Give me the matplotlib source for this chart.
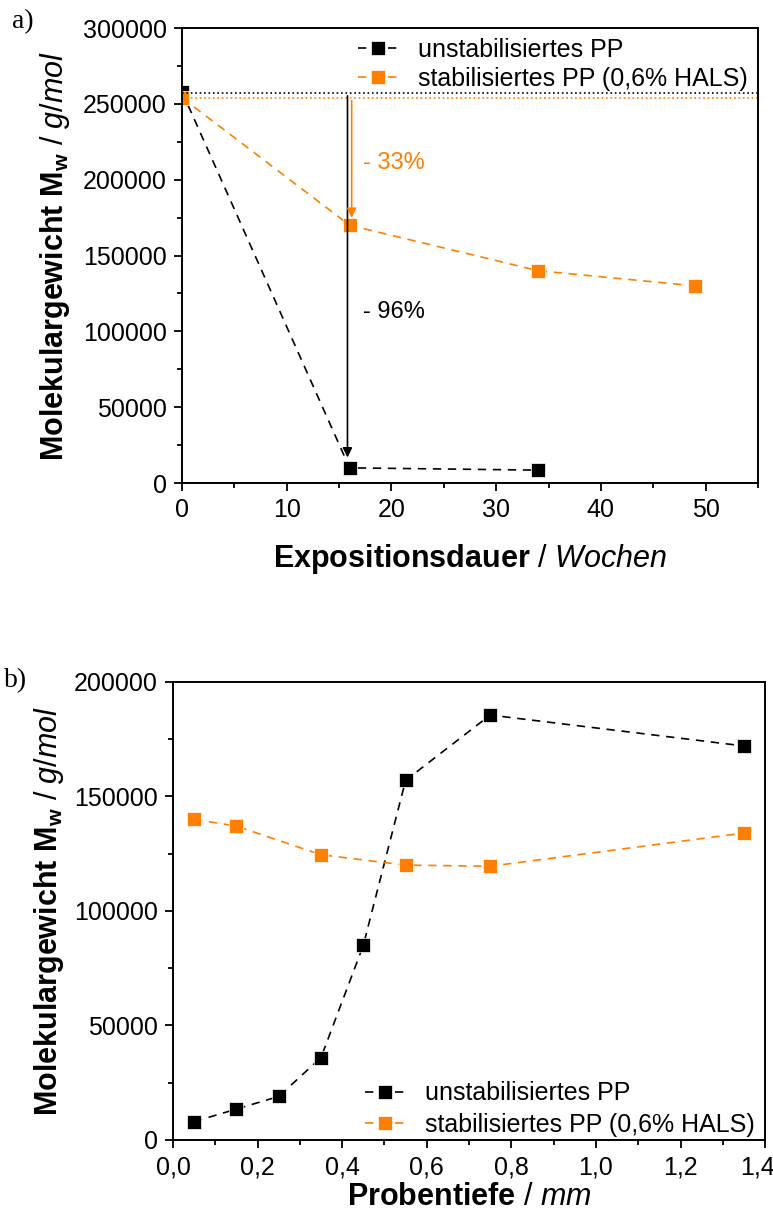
import numpy as np
import matplotlib
matplotlib.use("Agg")
import matplotlib.pyplot as plt
import matplotlib.transforms as mtransforms
from matplotlib.ticker import MultipleLocator, FuncFormatter

plt.rcParams['font.family'] = ['Liberation Sans', 'DejaVu Sans']
plt.rcParams['mathtext.fontset'] = 'custom'
plt.rcParams['mathtext.rm'] = 'Liberation Sans'
plt.rcParams['mathtext.bf'] = 'Liberation Sans:bold'
plt.rcParams['mathtext.it'] = 'Liberation Sans:italic'

# panel a data: Expositionsdauer (Wochen)
wochen_un = [0, 16, 34]
mw_un = [258000, 10000, 8500]
wochen_st = [0, 16, 34, 49]
mw_st = [254000, 170000, 140000, 130000]

# panel b data: Probentiefe (mm)
tiefe_un = [0.05, 0.15, 0.25, 0.35, 0.45, 0.55, 0.75, 1.35]
mwb_un = [8000, 13500, 19000, 36000, 85000, 157000, 185500, 172000]
tiefe_st = [0.05, 0.15, 0.35, 0.55, 0.75, 1.35]
mwb_st = [140000, 137000, 124500, 120000, 119500, 134000]

lab_un = "unstabilisiertes PP"
lab_st = "stabilisiertes PP (0,6% HALS)"
ORANGE = "#FF8000"
ylab = r"$\mathbf{Molekulargewicht\ M_w}$ / $\mathit{g/mol}$"

fig = plt.figure(figsize=(7.73, 12.25), dpi=100)

def style(ax):
    ax.tick_params(which='both', direction='out', top=False, right=False, width=1.3)
    ax.tick_params(which='major', length=6, labelsize=18, pad=5)
    ax.tick_params(which='minor', length=3.5)
    for s in ax.spines.values():
        s.set_linewidth(1.4)

# ---- a)
ax1 = fig.add_axes([0.2355, 0.6057, 0.745, 0.3714])
ax1.plot(wochen_un, mw_un, ls=(0, (5, 4)), color='black', lw=1.2, marker='s', ms=10,
         mfc='black', mec='white', mew=0.5, label=lab_un)
ax1.plot(wochen_st, mw_st, ls=(0, (5, 4)), color=ORANGE, lw=1.2, marker='s', ms=10,
         mfc=ORANGE, mec='white', mew=0.5, label=lab_st)
ax1.axhline(mw_un[0] - 900, color='black', ls=':', lw=1.2)
ax1.axhline(mw_st[0], color=ORANGE, ls=':', lw=1.2)
ax1.annotate("", xy=(15.8, 15000), xytext=(15.8, mw_un[0] - 900),
             arrowprops=dict(arrowstyle='-|>', color='black', lw=1.2, mutation_scale=14))
ax1.annotate("", xy=(16.2, 173000), xytext=(16.2, mw_st[0]),
             arrowprops=dict(arrowstyle='-|>', color=ORANGE, lw=1.2, mutation_scale=14))
ax1.text(17.3, 211000, "- 33%", color=ORANGE, fontsize=17, va='center')
ax1.text(17.3, 113000, "- 96%", color='black', fontsize=17, va='center')
ax1.set_xlim(0, 55)
ax1.set_ylim(0, 300000)
ax1.xaxis.set_major_locator(MultipleLocator(10))
ax1.xaxis.set_minor_locator(MultipleLocator(5))
ax1.yaxis.set_major_locator(MultipleLocator(50000))
ax1.yaxis.set_minor_locator(MultipleLocator(25000))
style(ax1)
ax1.set_xlabel(r"$\mathbf{Expositionsdauer}$ / $\mathit{Wochen}$", fontsize=22, labelpad=14)
ax1.set_ylabel(ylab, fontsize=22, labelpad=8)
ax1.legend(loc='upper right', frameon=False, fontsize=18, handlelength=1.6,
           handletextpad=0.8, borderaxespad=0.0, labelspacing=0.2)
fig.text(0.015, 0.982, "a)", family='Liberation Serif', fontsize=20, va='center')

# ---- b)
ax2 = fig.add_axes([0.2238, 0.0694, 0.766, 0.374])
ax2.plot(tiefe_un, mwb_un, ls=(0, (5, 4)), color='black', lw=1.2, marker='s', ms=10,
         mfc='black', mec='white', mew=0.5, label=lab_un)
ax2.plot(tiefe_st, mwb_st, ls=(0, (5, 4)), color=ORANGE, lw=1.2, marker='s', ms=10,
         mfc=ORANGE, mec='white', mew=0.5, label=lab_st)
ax2.set_xlim(0, 1.4)
ax2.set_ylim(0, 200000)
ax2.xaxis.set_major_locator(MultipleLocator(0.2))
ax2.xaxis.set_minor_locator(MultipleLocator(0.1))
ax2.yaxis.set_major_locator(MultipleLocator(50000))
ax2.yaxis.set_minor_locator(MultipleLocator(25000))
ax2.xaxis.set_major_formatter(FuncFormatter(lambda v, p: f"{v:.1f}".replace('.', ',')))
style(ax2)
ax2.set_xlabel(r"$\mathbf{Probentiefe}$ / $\mathit{mm}$", fontsize=22, labelpad=2)
ax2.set_ylabel(ylab, fontsize=22, labelpad=6)
ax2.legend(loc='lower right', bbox_to_anchor=(1.0, -0.015), frameon=False, fontsize=18,
           handlelength=1.6, handletextpad=0.8, borderaxespad=0.0, labelspacing=0.3)
fig.text(0.005, 0.444, "b)", family='Liberation Serif', fontsize=20, va='center')

# keep the last x tick label ("1,4") inside the figure
fig.canvas.draw()
for tick in ax2.xaxis.get_major_ticks():
    if tick.label1.get_text() == "1,4":
        tick.label1.set_horizontalalignment('right')
        tick.label1.set_transform(tick.label1.get_transform()
                                  + mtransforms.ScaledTranslation(7 / 72, 0, fig.dpi_scale_trans))

fig.savefig("out.png", dpi=100)
